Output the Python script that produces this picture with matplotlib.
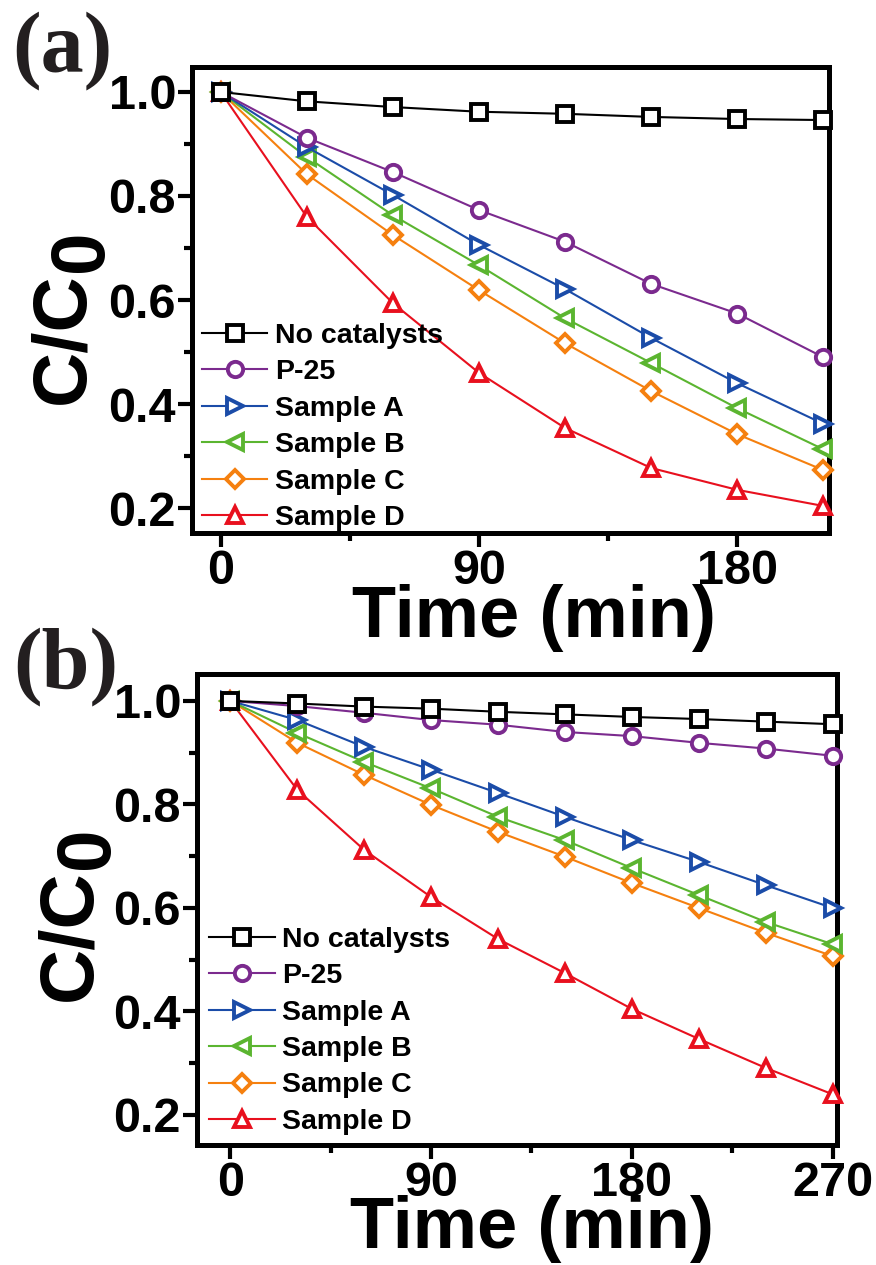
import numpy as np
import matplotlib
matplotlib.use("Agg")
import matplotlib.pyplot as plt
from matplotlib.ticker import MultipleLocator

plt.rcParams['font.family'] = ['Liberation Sans', 'DejaVu Sans']
plt.rcParams['font.weight'] = 'bold'

# Photocatalytic degradation data, C/C0 versus irradiation time
series_names = ["No catalysts", "P-25", "Sample A", "Sample B", "Sample C", "Sample D"]
series_colors = ["#000000", "#7B2A8E", "#1B4CA8", "#5BB530", "#F5800F", "#E8101E"]
series_markers = ["s", "o", ">", "<", "D", "^"]

time_a = [0, 30, 60, 90, 120, 150, 180, 210]
no_cat_a = [1.0, 0.982, 0.971, 0.962, 0.958, 0.952, 0.948, 0.946]
p25_a = [1.0, 0.912, 0.846, 0.773, 0.712, 0.631, 0.574, 0.490]
sample_a_a = [1.0, 0.894, 0.802, 0.706, 0.621, 0.527, 0.440, 0.362]
sample_b_a = [1.0, 0.875, 0.763, 0.667, 0.565, 0.479, 0.392, 0.313]
sample_c_a = [1.0, 0.842, 0.725, 0.619, 0.517, 0.425, 0.342, 0.273]
sample_d_a = [1.0, 0.760, 0.594, 0.460, 0.354, 0.277, 0.235, 0.204]

time_b = [0, 30, 60, 90, 120, 150, 180, 210, 240, 270]
no_cat_b = [1.0, 0.995, 0.989, 0.985, 0.979, 0.974, 0.969, 0.965, 0.960, 0.955]
p25_b = [1.0, 0.990, 0.977, 0.963, 0.954, 0.940, 0.932, 0.919, 0.908, 0.894]
sample_a_b = [1.0, 0.963, 0.911, 0.867, 0.822, 0.776, 0.731, 0.689, 0.644, 0.600]
sample_b_b = [1.0, 0.938, 0.882, 0.831, 0.776, 0.731, 0.677, 0.625, 0.573, 0.530]
sample_c_b = [1.0, 0.919, 0.857, 0.799, 0.747, 0.699, 0.648, 0.600, 0.552, 0.507]
sample_d_b = [1.0, 0.828, 0.712, 0.621, 0.540, 0.474, 0.405, 0.347, 0.291, 0.240]

x_major_a = [0, 90, 180]
x_major_b = [0, 90, 180, 270]
y_major = [0.2, 0.4, 0.6, 0.8, 1.0]

W, H = 876, 1265
fig = plt.figure(figsize=(W / 100, H / 100), dpi=100)


def px_axes(left, top, right, bottom):
    return [left / W, 1 - bottom / H, (right - left) / W, (bottom - top) / H]


def draw_panel(ax, t, curves, xlim, ylim, xticks, legend_top, legend_left,
               xlabel_pos, ylabel_pos):
    for i, (name, y) in enumerate(zip(series_names, curves)):
        ms = 9.5 if series_markers[i] == "D" else 11
        ax.plot(t, y, color=series_colors[i], marker=series_markers[i],
                markersize=ms, markerfacecolor="white",
                markeredgecolor=series_colors[i], markeredgewidth=2.8,
                linewidth=1.5, label=name, zorder=10 - i, clip_on=False)
    ax.set_xlim(*xlim)
    ax.set_ylim(*ylim)
    ax.set_xticks(xticks)
    ax.xaxis.set_minor_locator(MultipleLocator(45))
    ax.set_yticks(y_major)
    ax.yaxis.set_minor_locator(MultipleLocator(0.1))
    ax.set_yticklabels([f"{v:.1f}" for v in y_major])
    for s in ax.spines.values():
        s.set_linewidth(3.6)
    ax.tick_params(which="major", direction="out", length=10, width=3,
                   labelsize=35, pad=1.5)
    ax.tick_params(which="minor", direction="out", length=6, width=3)
    ax.tick_params(top=False, right=False, which="both")
    for lab in ax.get_xticklabels() + ax.get_yticklabels():
        lab.set_fontweight("bold")

    ax.set_xlabel("Time (min)", fontsize=52, fontweight="bold")
    ax.xaxis.set_label_coords(*xlabel_pos)
    ax.xaxis.label.set_va("baseline")

    ylab = ax.set_ylabel("C/C", fontsize=55, fontweight="bold")
    ax.yaxis.set_label_coords(*ylabel_pos)
    ylab.set_ha("left")
    ylab.set_va("baseline")
    ax.annotate("0", xy=(0, 1), xycoords=ylab, xytext=(13, 0),
                textcoords="offset points", rotation=90,
                rotation_mode="anchor", ha="left", va="top",
                fontsize=55, fontweight="bold")

    leg = ax.legend(loc="upper left", bbox_to_anchor=(legend_left, legend_top),
                    frameon=False, fontsize=20.5, handlelength=2.3,
                    handletextpad=0.27, labelspacing=0.365, borderpad=0,
                    borderaxespad=0)
    for txt in leg.get_texts():
        txt.set_fontweight("bold")


ax_a = fig.add_axes(px_axes(192, 67, 829, 533))
draw_panel(ax_a, time_a,
           [no_cat_a, p25_a, sample_a_a, sample_b_a, sample_c_a, sample_d_a],
           (-10, 212), (0.152, 1.048), x_major_a,
           legend_top=0.4506, legend_left=0.0157,
           xlabel_pos=(0.537, -0.223), ylabel_pos=(-0.170, 0.277))

ax_b = fig.add_axes(px_axes(197, 674, 837, 1145))
draw_panel(ax_b, time_b,
           [no_cat_b, p25_b, sample_a_b, sample_b_b, sample_c_b, sample_d_b],
           (-15, 272), (0.142, 1.052), x_major_b,
           legend_top=0.463, legend_left=0.019,
           xlabel_pos=(0.524, -0.219), ylabel_pos=(-0.167, 0.306))

panel_font = dict(fontsize=62, fontweight="bold", color="#231F20",
                  family=["Liberation Serif", "DejaVu Serif"],
                  ha="left", va="baseline")
fig.text(12 / W, 1 - 71 / H, "(a)", **panel_font)
fig.text(13 / W, 1 - 687 / H, "(b)", **panel_font)

fig.savefig("out.png", dpi=100)
